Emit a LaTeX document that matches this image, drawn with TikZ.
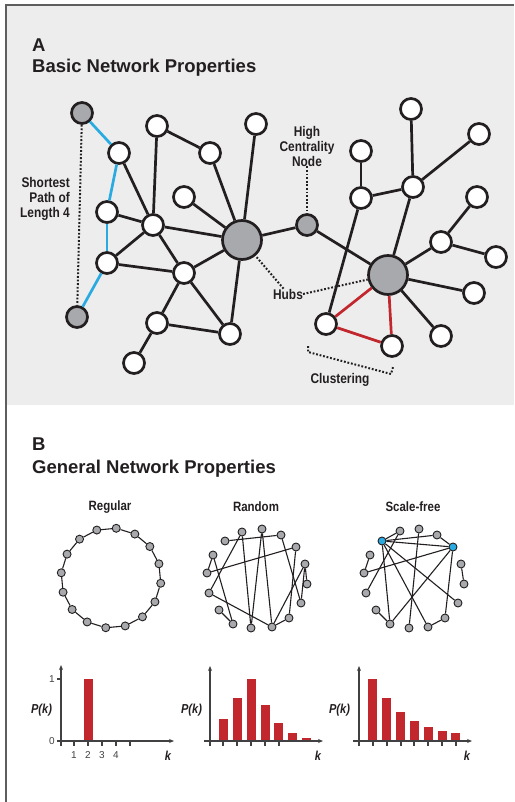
\documentclass[tikz,border=0pt]{standalone}
\usepackage{fontspec}
\setmainfont{Liberation Sans}
\newfontfamily\narrowfont[FakeStretch=0.85]{Liberation Sans}
\usetikzlibrary{arrows.meta}
\definecolor{panelgray}{HTML}{EDEDED}
\definecolor{nodegray}{HTML}{A7A9AC}
\definecolor{pathblue}{HTML}{29ABE2}
\definecolor{clusterred}{HTML}{C1272D}
\definecolor{ink}{HTML}{231F20}
\definecolor{framegray}{HTML}{5E5E5E}
\definecolor{axisgray}{HTML}{414042}
\tikzset{
	whitenode/.style={
			circle,
			draw=ink,
			fill=white,
			line width=2.7pt,
			minimum size=21pt,
			inner sep=0pt
		},
	greynode/.style={
			whitenode,
			fill=nodegray
		},
	hubnode/.style={
			greynode,
			minimum size=39pt
		},
	dotnode/.style={
			circle,
			draw=ink,
			fill=nodegray,
			line width=0.9pt,
			minimum size=8pt,
			inner sep=0pt
		},
	bluedotnode/.style={
			dotnode,
			fill=pathblue
		},
	link/.style={draw=ink, line width=2.7pt},
	pathlink/.style={link, draw=pathblue},
	clusterlink/.style={link, draw=clusterred},
	thinlink/.style={draw=ink, line width=1.1pt},
	pointer/.style={draw=ink, line width=2pt, dash pattern=on 1.8pt off 1.8pt},
	narrowlabel/.style={font=\narrowfont\bfseries\fontsize{14}{15}\selectfont, text=ink, inner sep=0pt},
	nettitle/.style={narrowlabel, font=\narrowfont\bfseries\fontsize{13.5}{15}\selectfont},
	axislabel/.style={narrowlabel, font=\narrowfont\bfseries\itshape\fontsize{13}{14}\selectfont},
	headline/.style={font=\bfseries\fontsize{18.5}{20}\selectfont, text=ink, inner sep=0pt, anchor=base west},
	ticklabel/.style={font=\fontsize{10}{11}\selectfont, text=axisgray, inner sep=0pt},
	bar/.style={fill=clusterred},
	axis/.style={draw=axisgray, line width=1.2pt},
	axisarrow/.style={axis, -{Stealth[length=5pt,width=4pt]}}
}

\begin{document}
\begin{tikzpicture}[x=1pt,y=-1pt]
\useasboundingbox (0,0) rectangle (514,802);
\fill[panelgray] (6,5) rectangle (514,405);
\draw[framegray, line width=2pt] (6,802) -- (6,5) -- (514,5);

% panel A: basic properties
\node[headline] (lblA) at (32,52) {A};
\node[headline] (titleA) at (32,73) {Basic Network Properties};

\node[greynode] (pS) at (82,113) {};
\node[greynode] (pT) at (77,317) {};
\node[whitenode] (n1) at (119,153) {};
\node[whitenode] (n2) at (157,126) {};
\node[whitenode] (n3) at (210,153) {};
\node[whitenode] (n4) at (256,124) {};
\node[whitenode] (n5) at (361,151) {};
\node[whitenode] (n6) at (411,109) {};
\node[whitenode] (n7) at (479,134) {};
\node[whitenode] (n8) at (413,187) {};
\node[whitenode] (n9) at (361,198) {};
\node[whitenode] (n10) at (477,197) {};
\node[whitenode] (n11) at (107,212) {};
\node[whitenode] (n12) at (153,225) {};
\node[whitenode] (n13) at (184,197) {};
\node[whitenode] (n14) at (107,263) {};
\node[whitenode] (n15) at (184,273) {};
\node[whitenode] (n16) at (441,242) {};
\node[whitenode] (n17) at (496,257) {};
\node[whitenode] (n18) at (474,293) {};
\node[whitenode] (n19) at (157,323) {};
\node[whitenode] (n20) at (230,334) {};
\node[whitenode] (n21) at (134,363) {};
\node[whitenode] (n22) at (326,324) {};
\node[whitenode] (n23) at (392,346) {};
\node[whitenode] (n24) at (441,336) {};
\node[hubnode] (hubL) at (242,240) {};
\node[hubnode] (hubR) at (388,275) {};
\node[greynode] (central) at (307,225) {};

\foreach \u/\v in {pS/n1, n1/n11, n11/n14, n14/pT}
	\draw[pathlink] (\u) -- (\v);
\foreach \u/\v in {n1/n12, n2/n12, n2/n3, n3/hubL, n4/hubL, n11/n12, n12/n14,
		n12/hubL, n12/n15, n13/hubL, n14/n15, n15/hubL, n15/n19, n15/n20,
		hubL/n20, n19/n20, n19/n21, hubL/central, central/hubR, n5/n9, n9/n8,
		n6/n8, n8/n7, n9/n22, n8/hubR, hubR/n16, n16/n17, n16/n10, hubR/n18,
		hubR/n24}
	\draw[link] (\u) -- (\v);
\foreach \u/\v in {hubR/n22, hubR/n23, n22/n23}
	\draw[clusterlink] (\u) -- (\v);

\node[narrowlabel, align=right, anchor=east] (shortest) at (70,199) {Shortest\\Path of\\Length 4};
\node[narrowlabel, align=center] (highc) at (307,146) {High\\Centrality\\Node};
\node[narrowlabel] (hubs) at (288,294) {Hubs};
\node[narrowlabel] (clust) at (340,380) {Clustering};

\draw[pointer] (pS) -- (pT);
\draw[pointer] (highc) -- (central);
\draw[pointer] (hubs.130) -- (hubL);
\draw[pointer] (hubs.east) -- (hubR);
\coordinate (brA) at (308,346);
\coordinate (brB) at (308,352);
\coordinate (brC) at (391,374);
\coordinate (brD) at (393,367);
\draw[pointer] (brA) -- (brB) -- (brC) -- (brD);

% panel B: general properties
\node[headline] (lblB) at (32,450) {B};
\node[headline] (titleB) at (32,473) {General Network Properties};

\node[nettitle] (regT) at (110,507) {Regular};
\node[nettitle] (rndT) at (256,507) {Random};
\node[nettitle] (sfT) at (413,507) {Scale-free};

% regular ring
\foreach \i in {0,...,15}
	\node[dotnode] (reg\i) at ([shift={(111,578)}] {84-\i*22.5}:50pt) {};
\foreach \i [evaluate=\i as \j using {int(mod(\i+1,16))}] in {0,...,15}
	\draw[thinlink] (reg\i) -- (reg\j);

% random graph
\foreach \i/\x/\y in {1/225/541, 2/242/532, 3/262/529, 4/281/535, 5/296/547,
		6/305/564, 7/307/584, 8/301/603, 9/289/618, 10/272/627, 11/251/628,
		12/233/624, 13/219/610, 14/209/593, 15/207/573, 16/213/555}
	\node[dotnode] (rnd\i) at (\x,\y) {};
\foreach \u/\v in {1/4, 2/14, 2/11, 3/11, 3/10, 4/8, 5/15, 5/9, 6/8, 6/10,
		6/7, 15/16, 16/12, 14/10, 13/12, 10/9}
	\draw[thinlink] (rnd\u) -- (rnd\v);

% scale-free graph, two hubs in blue
\foreach \i/\x/\y/\s in {1/382/541/bluedotnode, 2/400/531/dotnode,
		3/419/529/dotnode, 4/437/535/dotnode, 5/453/547/bluedotnode,
		6/461/564/dotnode, 7/464/584/dotnode, 8/458/603/dotnode,
		9/445/618/dotnode, 10/428/627/dotnode, 11/409/628/dotnode,
		12/390/624/dotnode, 13/376/610/dotnode, 14/366/593/dotnode,
		15/364/573/dotnode, 16/370/555/dotnode}
	\node[\s] (sf\i) at (\x,\y) {};
\foreach \u/\v in {1/2, 1/4, 1/5, 1/12, 1/10, 1/8, 2/14, 3/11, 4/5, 5/15,
		5/9, 5/12, 6/7, 9/10, 13/12, 15/16}
	\draw[thinlink] (sf\u) -- (sf\v);

% degree distributions
\fill[bar] (83.5,679) rectangle (92.5,741);
\foreach \c/\t in {223.5/719, 237.5/698, 251.5/679, 265.5/705, 278.5/723,
		292.5/733, 306.5/738}
	\fill[bar] ({\c-4.5},\t) rectangle ({\c+4.5},741);
\foreach \c/\t in {372.5/679, 386.5/698, 400.5/712, 414.5/721, 428.5/727,
		442.5/731, 455.5/733}
	\fill[bar] ({\c-4.5},\t) rectangle ({\c+4.5},741);

\draw[axisarrow] (58,741) -- (174,741);
\draw[axisarrow] (61,746) -- (61,665);
\foreach \x in {74,88,102,116,130}
	\draw[axis] (\x,741) -- (\x,746);
\draw[axis] (57,679) -- (61,679);
\draw[axis] (57,741) -- (61,741);
\foreach \x/\t in {74/1, 88/2, 102/3, 116/4}
	\node[ticklabel] at (\x,755) {\t};
\node[ticklabel, anchor=east] at (55,679) {1};
\node[ticklabel, anchor=east] at (55,741) {0};

\draw[axisarrow] (204,741) -- (323,741);
\draw[axisarrow] (210,746) -- (210,666);
\foreach \x in {223,237,251,265,279}
	\draw[axis] (\x,741) -- (\x,746);

\draw[axisarrow] (353,741) -- (472,741);
\draw[axisarrow] (359,746) -- (359,666);
\foreach \x in {373,387,401,414,428,442,456}
	\draw[axis] (\x,741) -- (\x,746);

\foreach \x/\kx in {41.5/168, 191.5/318, 339.5/467} {
	\node[axislabel] at (\x,710) {P(k)};
	\node[axislabel] at (\kx,756) {k};
}
\end{tikzpicture}
\end{document}
